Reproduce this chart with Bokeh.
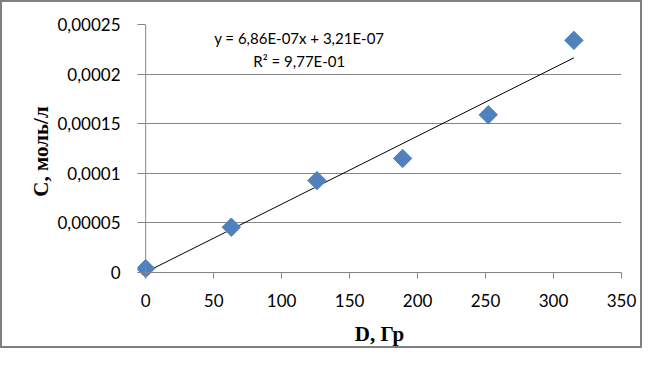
import math
from bokeh.plotting import figure
from bokeh.models import FixedTicker, Range1d, Label, Span
from bokeh.embed import file_html
from bokeh.resources import INLINE

# data
dose = [0, 63, 126, 189, 252, 315]
conc = [0.000004, 0.0000457, 0.0000927, 0.000115, 0.000159, 0.000234]

slope = [6.86e-7]
intercept = [3.21e-7]
trend_x = [0, 315]
trend_y = [slope[0] * x + intercept[0] for x in trend_x]

x_ticks = [0, 50, 100, 150, 200, 250, 300, 350]
y_ticks = [0, 0.00005, 0.0001, 0.00015, 0.0002, 0.00025]
y_tick_labels = ["0", "0,00005", "0,0001", "0,00015", "0,0002", "0,00025"]

eq_line1 = "y = 6,86E-07x + 3,21E-07"
eq_line2 = "R² = 9,77E-01"
x_title = "D, Гр"
y_title = "C, моль/л"

GRID = "#868686"
BLUE = "#4F81BD"
TICK_FONT = "Lato"
TITLE_FONT = "Liberation Serif"

p = figure(width=642, height=348, output_backend="svg", toolbar_location=None,
           x_range=Range1d(-6, 350), y_range=Range1d(-0.000006, 0.00025),
           min_border_left=135, min_border_right=23, min_border_top=22,
           min_border_bottom=72)
p.styles = {"border": "2px solid #808080"}
p.outline_line_color = None
p.background_fill_color = "white"
p.border_fill_color = "white"

p.xgrid.grid_line_color = None
p.ygrid.grid_line_color = GRID
p.ygrid.grid_line_width = 1

for ax in (p.xaxis[0], p.yaxis[0]):
    ax.axis_line_color = None
    ax.major_tick_line_color = GRID
    ax.minor_tick_line_color = None
    ax.major_tick_out = 0
    ax.major_label_text_font = TICK_FONT
    ax.major_label_text_font_size = "17px"
    ax.major_label_text_color = "black"
    ax.axis_label_text_font = TITLE_FONT
    ax.axis_label_text_font_style = "bold"
    ax.axis_label_text_font_size = "21px"
    ax.axis_label_text_color = "black"

p.xaxis[0].ticker = FixedTicker(ticks=x_ticks)
p.xaxis[0].major_tick_in = 6
p.xaxis[0].major_label_standoff = 15
p.xaxis[0].axis_label = x_title
p.xaxis[0].axis_label_standoff = 12

p.yaxis[0].ticker = FixedTicker(ticks=y_ticks)
p.yaxis[0].major_label_overrides = {t: l for t, l in zip(y_ticks, y_tick_labels)}
p.yaxis[0].major_tick_in = 8
p.yaxis[0].major_label_standoff = 17
p.yaxis[0].axis_label = y_title
p.yaxis[0].axis_label_standoff = 1

# axis lines through the origin
p.add_layout(Span(location=0, dimension="width", line_color=GRID, line_width=1))
p.add_layout(Span(location=0, dimension="height", line_color=GRID, line_width=1))

p.line(trend_x, trend_y, line_color="black", line_width=1)
p.scatter(dose, conc, marker="square", angle=math.pi / 4, size=13,
          fill_color=BLUE, line_color=BLUE)

p.add_layout(Label(x=113, y=0.0002359, text=eq_line1, text_align="center",
                   text_baseline="middle", text_font=TICK_FONT,
                   text_font_size="15px", text_color="black"))
p.add_layout(Label(x=113, y=0.0002137, text=eq_line2, text_align="center",
                   text_baseline="middle", text_font=TICK_FONT,
                   text_font_size="15px", text_color="black"))

open("out.html", "w").write(file_html(p, INLINE))
